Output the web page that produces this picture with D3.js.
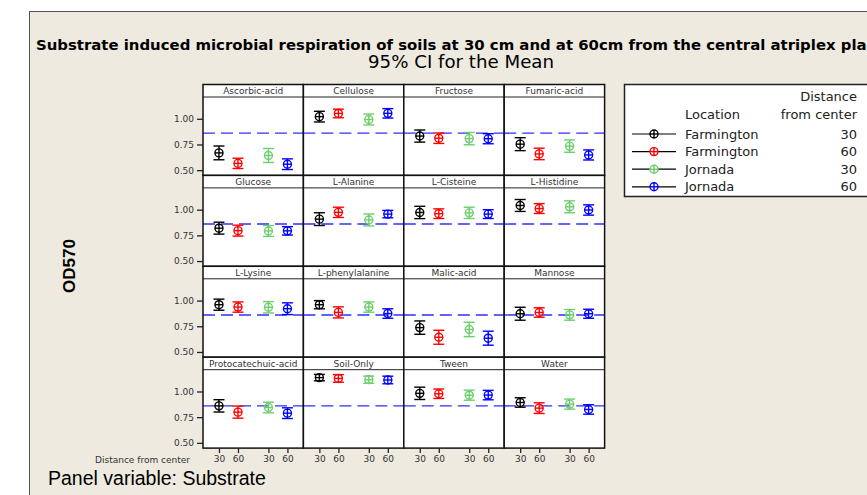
<!DOCTYPE html>
<html>
<head>
<meta charset="utf-8">
<script src="https://cdnjs.cloudflare.com/ajax/libs/d3/7.8.5/d3.min.js"></script>
<style>
  body { margin: 0; background: #fff; overflow: hidden; }
  svg { display: block; }
  .axis path { display: none; }
  .axis text { font-family: 'DejaVu Sans', sans-serif; font-size: 9px; fill: #333; }
  .axis line { stroke: #222; stroke-width: 1.3; }
</style>
</head>
<body>
<div class="canvas"></div>
<script>

// Panels (one per substrate)
const substrates = ['Ascorbic-acid', 'Cellulose', 'Fructose', 'Fumaric-acid',
    'Glucose', 'L-Alanine', 'L-Cisteine', 'L-Histidine',
    'L-Lysine', 'L-phenylalanine', 'Malic-acid', 'Mannose',
    'Protocatechuic-acid', 'Soil-Only', 'Tween', 'Water'];

// groups
const locations = ['Farmington', 'Farmington', 'Jornada', 'Jornada'];
const distances = [30, 60, 30, 60];
const colors = ['#000000', '#ff0000', '#6ccf6c', '#0000ff'];

// means, same order as substrates
const farm30Mean = [0.668, 1.021, 0.832, 0.753, 0.820, 0.908, 0.973, 1.041, 0.960, 0.960, 0.737, 0.872, 0.860, 1.135, 0.982, 0.893];
const farm60Mean = [0.566, 1.052, 0.811, 0.658, 0.796, 0.974, 0.961, 1.011, 0.937, 0.885, 0.643, 0.884, 0.799, 1.127, 0.978, 0.838];
const jorn30Mean = [0.643, 0.993, 0.807, 0.734, 0.793, 0.900, 0.969, 1.028, 0.935, 0.937, 0.719, 0.861, 0.844, 1.115, 0.964, 0.877];
const jorn60Mean = [0.558, 1.053, 0.806, 0.648, 0.794, 0.957, 0.957, 0.997, 0.921, 0.874, 0.634, 0.872, 0.789, 1.112, 0.965, 0.825];

// half width of the 95% CI
const farm30Half = [0.067, 0.052, 0.059, 0.063, 0.058, 0.062, 0.060, 0.058, 0.054, 0.040, 0.065, 0.063, 0.060, 0.031, 0.060, 0.046];
const farm60Half = [0.050, 0.042, 0.051, 0.056, 0.053, 0.050, 0.047, 0.048, 0.050, 0.054, 0.068, 0.046, 0.059, 0.037, 0.046, 0.052];
const jorn30Half = [0.068, 0.053, 0.060, 0.060, 0.053, 0.058, 0.055, 0.058, 0.055, 0.050, 0.070, 0.052, 0.052, 0.035, 0.049, 0.049];
const jorn60Half = [0.052, 0.046, 0.049, 0.049, 0.041, 0.036, 0.043, 0.050, 0.057, 0.046, 0.068, 0.044, 0.052, 0.037, 0.046, 0.046];

// overall mean (dashed reference line)
const refMean = 0.86;
const yTicks = [0.50, 0.75, 1.00];

// Chart dimensions
const dims = {width: 867, height: 495};
const grid = {left: 203, top: 84.5, cellW: 100.4, cellH: 90.9, strip: 12.5, cols: 4};

// series table built from the arrays above
const means = [farm30Mean, farm60Mean, jorn30Mean, jorn60Mean];
const halves = [farm30Half, farm60Half, jorn30Half, jorn60Half];
const locNames = Array.from(new Set(locations));
const distNames = Array.from(new Set(distances));
const series = locations.map((loc, i) => ({
    loc, dist: distances[i], color: colors[i],
    slot: locNames.indexOf(loc) * 2.6 + distNames.indexOf(distances[i]),
    means: means[i], halves: halves[i]
}));

// svg container
const svg = d3.select('.canvas')
    .append('svg')
    .attr('width', dims.width)
    .attr('height', dims.height);

// beige frame
svg.append('rect')
    .attr('x', 29.5).attr('y', 11.5)
    .attr('width', 900).attr('height', 500)
    .attr('fill', '#eeeae0')
    .attr('stroke', '#555');

// titles (the long one runs off the right edge, as in the original)
svg.append('text')
    .attr('x', 36).attr('y', 50)
    .style('font-family', 'DejaVu Sans, sans-serif')
    .style('font-weight', 'bold')
    .style('font-size', '14.9px')
    .text('Substrate induced microbial respiration of soils at 30 cm and at 60cm from the central atriplex plant');

svg.append('text')
    .attr('x', 461).attr('y', 68)
    .attr('text-anchor', 'middle')
    .style('font-family', 'DejaVu Sans, sans-serif')
    .style('font-size', '18.2px')
    .text('95% CI for the Mean');

svg.append('text')
    .attr('x', 48).attr('y', 485)
    .style('font-family', 'Liberation Sans, Arial, sans-serif')
    .style('font-size', '19.5px')
    .text('Panel variable: Substrate');

// y axis title
svg.append('text')
    .attr('transform', 'translate(75, 266) rotate(-90)')
    .attr('text-anchor', 'middle')
    .style('font-family', 'Liberation Sans, Arial, sans-serif')
    .style('font-weight', 'bold')
    .style('font-size', '17px')
    .text('OD570');

// scales (shared by every panel)
const x = d3.scaleLinear()
    .domain([-0.84, 4.44])
    .range([0, grid.cellW]);

const y = d3.scaleLinear()
    .domain([0.449, 1.212])
    .range([grid.cellH, grid.strip]);

// one group per panel
const panels = svg.selectAll('g.panel')
    .data(substrates)
    .enter()
    .append('g')
    .attr('class', 'panel')
    .attr('transform', (d, i) => `translate(${grid.left + (i % grid.cols) * grid.cellW}, ${grid.top + Math.floor(i / grid.cols) * grid.cellH})`);

panels.append('rect')
    .attr('width', grid.cellW).attr('height', grid.cellH)
    .attr('fill', '#fff');

// reference line
panels.append('line')
    .attr('x1', 0).attr('x2', grid.cellW)
    .attr('y1', y(refMean)).attr('y2', y(refMean))
    .attr('stroke', '#2f2fff')
    .attr('stroke-width', 1.4)
    .attr('stroke-dasharray', '12,6');

// strip with substrate name
panels.append('line')
    .attr('x1', 0).attr('x2', grid.cellW)
    .attr('y1', grid.strip).attr('y2', grid.strip)
    .attr('stroke', '#222')
    .attr('stroke-width', 1);

panels.append('text')
    .attr('x', grid.cellW / 2).attr('y', grid.strip - 3)
    .attr('text-anchor', 'middle')
    .style('font-family', 'DejaVu Sans, sans-serif')
    .style('font-size', '9px')
    .attr('fill', '#333')
    .text(d => d);

// interval markers
const marks = panels.selectAll('g.ci')
    .data((d, i) => series.map(s => ({s, m: s.means[i], h: s.halves[i]})))
    .enter()
    .append('g')
    .attr('class', 'ci')
    .attr('stroke', d => d.s.color)
    .attr('stroke-width', 1.4)
    .attr('fill', 'none');

const cap = 5.5, r = 4;

marks.append('line')
    .attr('x1', d => x(d.s.slot)).attr('x2', d => x(d.s.slot))
    .attr('y1', d => y(d.m - d.h)).attr('y2', d => y(d.m + d.h));

marks.append('line')
    .attr('x1', d => x(d.s.slot) - cap).attr('x2', d => x(d.s.slot) + cap)
    .attr('y1', d => y(d.m + d.h)).attr('y2', d => y(d.m + d.h));

marks.append('line')
    .attr('x1', d => x(d.s.slot) - cap).attr('x2', d => x(d.s.slot) + cap)
    .attr('y1', d => y(d.m - d.h)).attr('y2', d => y(d.m - d.h));

marks.append('circle')
    .attr('cx', d => x(d.s.slot)).attr('cy', d => y(d.m))
    .attr('r', r);

marks.append('line')
    .attr('x1', d => x(d.s.slot) - r).attr('x2', d => x(d.s.slot) + r)
    .attr('y1', d => y(d.m)).attr('y2', d => y(d.m));

// panel borders
panels.append('rect')
    .attr('width', grid.cellW).attr('height', grid.cellH)
    .attr('fill', 'none')
    .attr('stroke', '#111')
    .attr('stroke-width', 1.5);

// y axes on the left column
panels.filter((d, i) => i % grid.cols === 0)
    .append('g')
    .attr('class', 'axis')
    .call(d3.axisLeft(y).tickValues(yTicks).tickFormat(d3.format('.2f')).tickSize(6).tickPadding(3));

// x axes on the bottom row
const rows = Math.ceil(substrates.length / grid.cols);
panels.filter((d, i) => Math.floor(i / grid.cols) === rows - 1)
    .append('g')
    .attr('class', 'axis')
    .attr('transform', `translate(0, ${grid.cellH})`)
    .call(d3.axisBottom(x).tickValues(series.map(s => s.slot)).tickFormat((d, i) => series[i].dist).tickSize(5).tickPadding(3));

svg.append('text')
    .attr('x', 190).attr('y', 463)
    .attr('text-anchor', 'end')
    .style('font-family', 'DejaVu Sans, sans-serif')
    .style('font-size', '9px')
    .attr('fill', '#333')
    .text('Distance from center');

// legend
const legend = svg.append('g');

legend.append('rect')
    .attr('x', 624.5).attr('y', 84.5)
    .attr('width', 300).attr('height', 112)
    .attr('fill', '#fff')
    .attr('stroke', '#222')
    .attr('stroke-width', 1.5);

const legFont = sel => sel.style('font-family', 'DejaVu Sans, sans-serif').style('font-size', '13px').attr('fill', '#222');

legend.append('text').attr('x', 857).attr('y', 100.5).attr('text-anchor', 'end').call(legFont).text('Distance');
legend.append('text').attr('x', 685).attr('y', 119.3).call(legFont).text('Location');
legend.append('text').attr('x', 857).attr('y', 119.3).attr('text-anchor', 'end').call(legFont).text('from center');

const legRows = legend.selectAll('g.leg')
    .data(series)
    .enter()
    .append('g')
    .attr('class', 'leg')
    .attr('transform', (d, i) => `translate(0, ${134 + i * 17.6})`);

legRows.append('line')
    .attr('x1', 632).attr('x2', 676)
    .attr('stroke', '#000').attr('stroke-width', 1.2);

legRows.append('circle')
    .attr('cx', 654).attr('r', 4)
    .attr('fill', '#fff')
    .attr('stroke', d => d.color).attr('stroke-width', 1.4);

legRows.append('line')
    .attr('x1', 654).attr('x2', 654).attr('y1', -4).attr('y2', 4)
    .attr('stroke', d => d.color).attr('stroke-width', 1.4);

legRows.append('line')
    .attr('x1', 650).attr('x2', 658)
    .attr('stroke', d => d.color).attr('stroke-width', 1.4);

legRows.append('text').attr('x', 685).attr('y', 4.5).call(legFont).text(d => d.loc);
legRows.append('text').attr('x', 857).attr('y', 4.5).attr('text-anchor', 'end').call(legFont).text(d => d.dist);

</script>
</body>
</html>
